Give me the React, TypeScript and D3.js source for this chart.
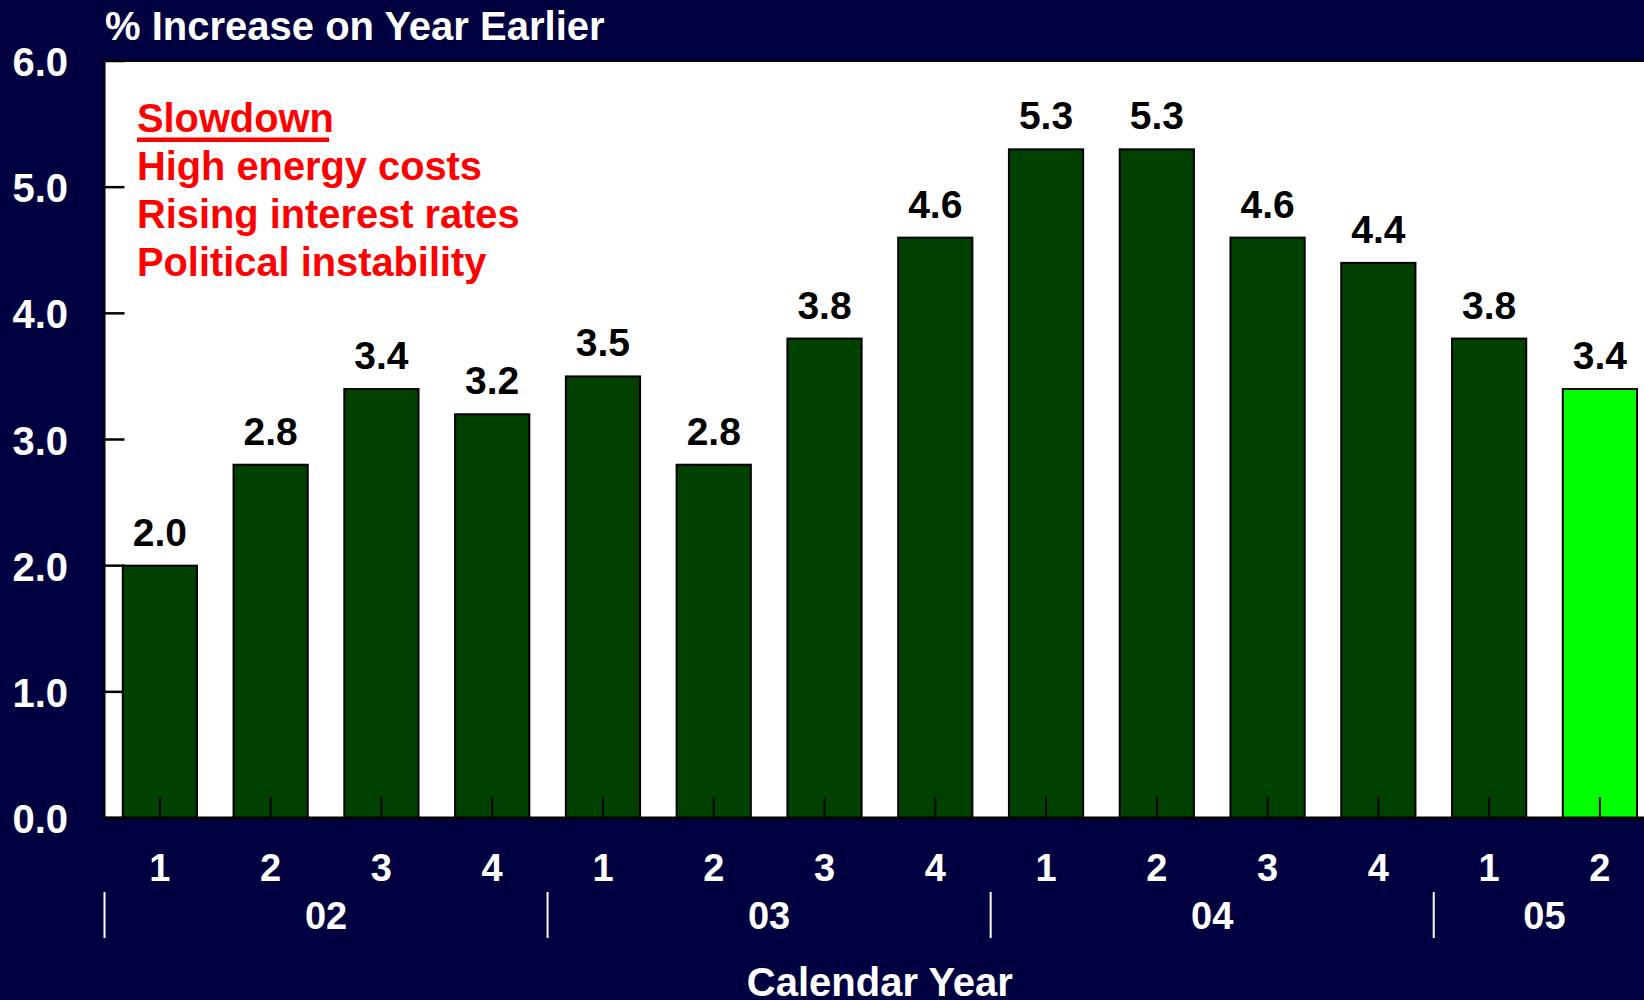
import React from "react";
import * as d3 from "d3";

const quarters = ["1", "2", "3", "4", "1", "2", "3", "4", "1", "2", "3", "4", "1", "2"];
const values = [2.0, 2.8, 3.4, 3.2, 3.5, 2.8, 3.8, 4.6, 5.3, 5.3, 4.6, 4.4, 3.8, 3.4];
const highlight = [false, false, false, false, false, false, false, false, false, false, false, false, false, true];
const years = ["02", "03", "04", "05"];
const yearQuarterCounts = [4, 4, 4, 2];
const yTicks = [0, 1, 2, 3, 4, 5, 6];
const notes = ["Slowdown", "High energy costs", "Rising interest rates", "Political instability"];
const title = "% Increase on Year Earlier";
const xTitle = "Calendar Year";

const W = 1644;
const H = 1000;
const BG = "#000040";
const DARK = "#004000";
const LIGHT = "#00ff00";
const FONT = "'Liberation Sans', Arial, sans-serif";

export default function App() {
  const left = 104.5;
  const step = 110.77;
  const right = left + step * quarters.length; // extends slightly past the right edge
  const top = 61;
  const bottom = 818;

  const idx = d3.range(quarters.length).map(String);
  const x = d3.scaleBand<string>().domain(idx).range([left, right]).paddingInner(0.33).paddingOuter(0.165);
  const y = d3.scaleLinear().domain([0, 6]).range([bottom, top]);

  const bounds: number[] = [0];
  let acc = 0;
  yearQuarterCounts.forEach((c) => {
    acc += c;
    bounds.push(acc);
  });
  const bx = (i: number) => left + x.step() * i;

  return (
    <svg width={W} height={H} style={{ position: "absolute", left: 0, top: 0, display: "block" }} fontFamily={FONT} fontWeight="bold">
      <rect x={0} y={0} width={W} height={H} fill={BG} />
      <text x={105} y={40} fill="#fff" fontSize={40}>{title}</text>
      <rect x={left} y={top} width={right - left + 20} height={bottom - top} fill="#fff" stroke="#000" strokeWidth={2} />

      {yTicks.map((t) => (
        <g key={"y" + t}>
          <line x1={left} x2={left + 20} y1={y(t)} y2={y(t)} stroke="#000" strokeWidth={2.5} />
          <text x={68} y={y(t) + 15} textAnchor="end" fill="#fff" fontSize={40}>{t.toFixed(1)}</text>
        </g>
      ))}

      {idx.map((k, i) => {
        const bw = x.bandwidth();
        const x0 = x(k)!;
        return (
          <g key={"b" + i}>
            <rect x={x0} y={y(values[i])} width={bw} height={y(0) - y(values[i])} fill={highlight[i] ? LIGHT : DARK} stroke="#000" strokeWidth={2} />
            <text x={x0 + bw / 2} y={y(values[i]) - 20} textAnchor="middle" fill="#000" fontSize={39}>{values[i].toFixed(1)}</text>
            <line x1={x0 + bw / 2} x2={x0 + bw / 2} y1={bottom} y2={bottom - 21} stroke="#000" strokeWidth={2} />
            <text x={x0 + bw / 2} y={881} textAnchor="middle" fill="#fff" fontSize={38}>{quarters[i]}</text>
          </g>
        );
      })}

      <line x1={left} x2={right + 20} y1={bottom} y2={bottom} stroke="#000" strokeWidth={3} />

      {bounds.slice(0, -1).map((b, i) => (
        <line key={"s" + i} x1={bx(b)} x2={bx(b)} y1={892} y2={938} stroke="#fff" strokeWidth={2} />
      ))}
      {years.map((yr, i) => (
        <text key={"yr" + i} x={(bx(bounds[i]) + bx(bounds[i + 1])) / 2} y={929} textAnchor="middle" fill="#fff" fontSize={38}>{yr}</text>
      ))}

      <text x={(left + right) / 2} y={996} textAnchor="middle" fill="#fff" fontSize={40}>{xTitle}</text>

      {notes.map((n, i) => (
        <text key={"n" + i} x={137} y={132 + i * 48} fill="#ff0000" fontSize={39.8}>{n}</text>
      ))}
      <rect x={137} y={137.5} width={192} height={4.5} fill="#ff0000" />
    </svg>
  );
}
